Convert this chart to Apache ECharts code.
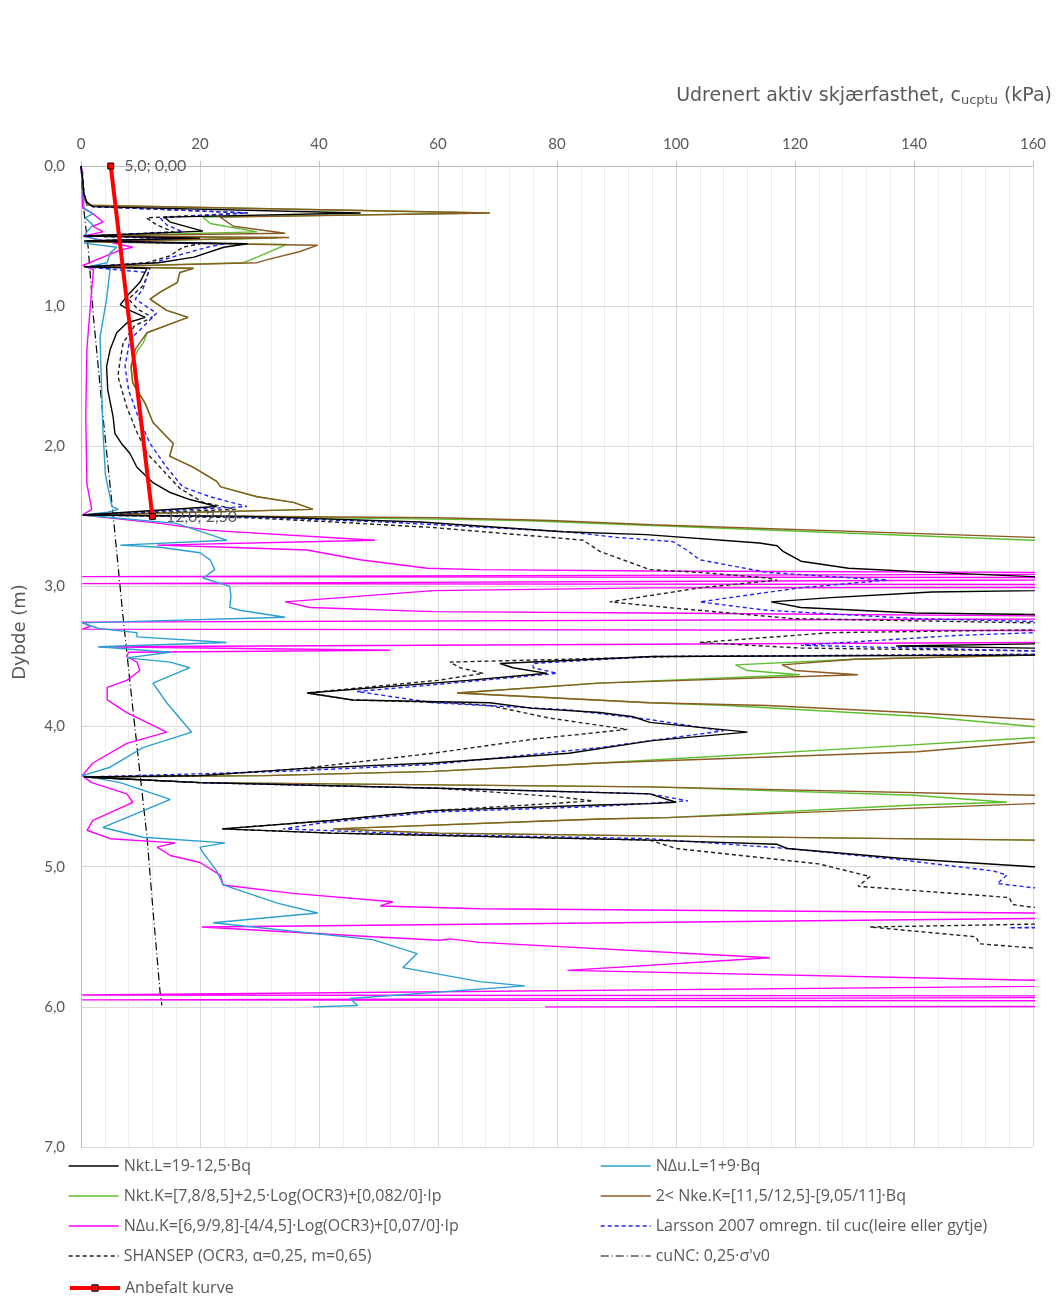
<!DOCTYPE html>
<html>
<head>
<meta charset="utf-8">
<script src="https://cdn.jsdelivr.net/npm/echarts@6/dist/echarts.min.js"></script>
<style>
  html, body { margin: 0; padding: 0; background: #fff; }
  #chart { width: 1061px; height: 1296px; }
</style>
</head>
<body>
<div id="chart"></div>
<script>
// [skjærfasthet kPa, dybde m]
var nktL = [
  [0,0],[0.3,0.1],[0.5,0.2],[1,0.26],[2,0.29],[47,0.335],[14,0.365],[15,0.4],[20.5,0.465],[0.5,0.5],[20,0.515],[0.5,0.535],[28,0.555],[24,0.58],[19,0.65],[13,0.69],[0.5,0.72],
  [11.1,0.73],[9.9,0.83],[7.7,0.93],[6.6,0.99],[8.2,1.03],[10.8,1.08],[7.7,1.12],[6,1.19],[4.9,1.31],[4.3,1.43],[4.5,1.6],[5.4,1.79],[5.7,1.91],[6.8,1.98],[8.2,2.05],[9.4,2.15],[12.1,2.26],[15,2.33],[18.3,2.38],[22.8,2.43],[0.3,2.49],
  [28,2.5],[57,2.54],[81,2.61],[95,2.63],[114,2.69],[117,2.71],[118,2.75],[121,2.82],[129,2.87],[143,2.9],[160,2.93],[250,2.96],[250,2.98],[143,3.04],[126,3.08],[116,3.11],[121,3.15],[140,3.19],[160,3.2],[250,3.22],
  [250,3.4],[160,3.41],[137,3.425],[160,3.44],[250,3.46],[250,3.485],[160,3.49],[96,3.5],[70.4,3.55],[72.6,3.58],[78.3,3.62],[65,3.67],[38,3.76],[45.7,3.81],[68.7,3.83],[76,3.87],[87.2,3.9],[92.8,3.93],[95.6,3.97],[112,4.04],
  [96,4.1],[82,4.19],[59,4.26],[37,4.3],[20,4.35],[0.5,4.36],[20,4.4],[60,4.44],[95.6,4.48],[100,4.54],[95.6,4.55],[87,4.56],[59,4.6],[42,4.67],[23.7,4.73],[42,4.76],[95.6,4.81],[117,4.84],[118.7,4.87],[137.6,4.94],[160,5.0],[250,5.05],[250,6.0]
];
var nduL = [
  [0,0],[0.3,0.15],[0.5,0.3],[2,0.34],[0.7,0.37],[2,0.42],[1,0.47],[0.5,0.5],[3,0.53],[0.5,0.55],[6,0.58],[4.9,0.62],[4.4,0.69],[1,0.72],[4.9,0.73],[4.3,0.95],[3.2,1.22],[3.4,1.5],[3.7,1.9],[4.1,2.2],[5.2,2.43],[6.3,2.45],[4.5,2.47],[0.2,2.49],
  [5.4,2.51],[16,2.55],[24.5,2.67],[6.6,2.705],[13.3,2.72],[20,2.76],[21.7,2.81],[22.5,2.88],[20.5,2.94],[25,3.0],[25.2,3.07],[25,3.15],[26.7,3.17],[34.3,3.22],[0.2,3.26],[3,3.3],[9.4,3.33],[9.4,3.36],[24.5,3.4],
  [2.9,3.43],[15,3.47],[7.7,3.51],[15,3.54],[18.3,3.58],[12.1,3.69],[14.4,3.83],[18.6,4.04],[10.4,4.15],[4.9,4.29],[0.2,4.35],[6.6,4.4],[15,4.52],[9.4,4.62],[3.7,4.72],[10.4,4.79],[24.2,4.83],[20,4.86],[20.5,4.9],
  [22.8,5.03],[23.9,5.13],[33,5.26],[39.8,5.33],[22.2,5.4],[49,5.52],[56.5,5.62],[54.1,5.72],[67,5.82],[74.6,5.85],[45.2,5.94],[46.5,5.99],[39,6.0]
];
var nktK = [
  [0,0],[0.3,0.15],[0.5,0.22],[1,0.28],[68.7,0.335],[20.5,0.365],[21.7,0.41],[29.6,0.47],[1,0.5],[33,0.515],[1,0.54],[34.6,0.56],[29.6,0.65],[27.3,0.69],[1,0.72],
  [18.9,0.73],[16.6,0.76],[16.2,0.83],[13.3,0.9],[11.6,0.95],[14.4,1.03],[18,1.08],[15.5,1.12],[11.1,1.19],[10.5,1.26],[9.6,1.31],[8.4,1.43],[8.7,1.55],[10.8,1.69],[12.1,1.83],[15.5,1.98],[14.9,2.07],[18.9,2.15],[22.8,2.25],[23.5,2.29],[29.6,2.36],[35.7,2.4],[39,2.45],[0.3,2.49],
  [60,2.52],[74,2.53],[96,2.565],[160,2.67],[250,2.72],[250,3.47],[160,3.49],[130,3.52],[110,3.56],[112,3.6],[120.8,3.63],[87,3.69],[63.2,3.76],[95.6,3.83],[108.6,3.85],[142,3.93],[160,4.0],[250,4.03],
  [250,4.06],[160,4.08],[132,4.15],[87.2,4.26],[59.2,4.32],[31,4.35],[0.5,4.36],[20,4.4],[95.6,4.43],[140,4.49],[155.6,4.54],[140,4.56],[98.5,4.65],[87.2,4.66],[42.4,4.73],[60,4.76],[95.6,4.78],[160,4.81],[250,4.83],[250,6.0]
];
var nkeK = [
  [0,0],[0.3,0.15],[0.5,0.22],[1,0.28],[68.7,0.335],[23.4,0.365],[25.6,0.43],[34.3,0.48],[1,0.5],[35,0.51],[1,0.54],[39.8,0.565],[36.8,0.61],[31.2,0.67],[29.6,0.69],[1,0.72],
  [18.9,0.73],[16.6,0.76],[16.2,0.83],[13.3,0.9],[11.6,0.95],[14.4,1.03],[18,1.08],[15.5,1.12],[11.1,1.19],[9.9,1.26],[9.1,1.31],[8.4,1.43],[8.7,1.55],[10.7,1.69],[12.1,1.83],[15.5,1.98],[14.9,2.07],[18.9,2.15],[22.8,2.25],[23.5,2.29],[29.6,2.36],[35.7,2.4],[39,2.45],[0.3,2.49],
  [60,2.51],[79,2.53],[96,2.56],[160,2.65],[250,2.7],[250,3.47],[160,3.49],[130,3.52],[117.8,3.56],[120,3.6],[130.6,3.63],[87,3.69],[63.2,3.76],[95.6,3.83],[115.3,3.85],[139.3,3.9],[160,3.95],[250,3.98],
  [250,4.05],[160,4.11],[140.5,4.18],[87.2,4.26],[59.2,4.32],[31,4.35],[0.5,4.36],[20,4.4],[95.6,4.43],[160,4.49],[250,4.52],[160,4.55],[98.5,4.65],[87.2,4.66],[42.4,4.73],[60,4.76],[95.6,4.78],[160,4.81],[250,4.83],[250,6.0]
];
var nduK = [
  [0,0],[0.3,0.05],[0.2,0.15],[0.3,0.3],[2,0.34],[3.7,0.4],[2,0.43],[3.7,0.47],[0.3,0.5],[8.7,0.58],[6.6,0.6],[3.7,0.65],[0.3,0.71],[2.1,0.74],[1.8,0.88],[1,1.3],[0.8,1.79],[1,2.27],[1.8,2.45],[0.3,2.49],
  [13.3,2.55],[21.7,2.6],[49.4,2.67],[12.8,2.705],[24.5,2.72],[38,2.74],[46.9,2.81],[58.2,2.87],[67,2.88],[95.6,2.89],[160,2.9],[250,2.905],[0.2,2.93],[250,2.94],[0.2,2.98],[250,2.99],
  [250,3.005],[95.6,3.01],[59.2,3.03],[34.3,3.11],[38.5,3.15],[59.2,3.18],[95.6,3.19],[160,3.21],[250,3.22],[0.2,3.255],[1.6,3.285],[0.2,3.305],[250,3.32],[250,3.39],[160,3.4],[3,3.43],[52,3.455],[8,3.47],
  [7.7,3.5],[9.4,3.54],[9.9,3.6],[7.7,3.67],[4.4,3.72],[4.4,3.81],[7.7,3.9],[14.4,4.04],[7.7,4.12],[2,4.26],[0.2,4.35],[1.8,4.4],[7.7,4.48],[8.7,4.54],[7.7,4.56],[2,4.67],[1,4.74],[4.9,4.8],[15.8,4.83],[12.8,4.86],[15,4.92],[20,4.97],
  [23.4,5.06],[23.9,5.13],[35.6,5.19],[52.4,5.25],[50.3,5.28],[67,5.3],[160,5.33],[250,5.335],[250,5.36],[160,5.37],[20.3,5.43],[49,5.5],[60.3,5.525],[62,5.515],[67,5.54],[115.8,5.65],[81.8,5.74],[160,5.81],[250,5.82],
  [0.2,5.915],[250,5.925],[0.2,5.95],[250,5.96],[250,5.995],[78,6.0]
];
var larsson = [
  [0,0],[0.3,0.1],[0.5,0.2],[1,0.26],[2,0.29],[28,0.335],[13.3,0.37],[14.4,0.42],[17.1,0.47],[1,0.5],[18,0.515],[1,0.535],[24,0.555],[21.2,0.58],[16.1,0.64],[12.2,0.69],[0.8,0.72],
  [11.3,0.76],[10.4,0.88],[9.1,0.95],[12.7,1.05],[10.4,1.15],[8.2,1.24],[7.4,1.43],[8,1.6],[9.6,1.79],[11.6,1.98],[14.4,2.15],[17.1,2.29],[21.7,2.36],[27.9,2.43],[0.3,2.49],
  [28,2.505],[50.8,2.54],[81.7,2.61],[90,2.65],[99.5,2.68],[101.8,2.74],[104,2.81],[115.3,2.9],[135.5,2.955],[120.8,3.01],[104,3.11],[115.3,3.17],[140.5,3.23],[160,3.25],[250,3.28],[250,3.3],[160,3.33],[147,3.35],[121,3.42],[140,3.44],[160,3.46],[250,3.47],
  [160,3.485],[96,3.5],[76,3.55],[76,3.58],[80,3.62],[70,3.66],[46.4,3.75],[59.2,3.83],[81.7,3.88],[95.6,3.95],[108,4.03],[87.2,4.15],[59.2,4.27],[34,4.32],[0.5,4.36],
  [20,4.4],[60,4.44],[95.6,4.48],[102,4.53],[87.2,4.57],[59.2,4.61],[40,4.69],[34,4.73],[59.2,4.77],[95.6,4.8],[118.7,4.87],[137.6,4.95],[153.3,5.03],[155.6,5.06],[154,5.12],[160,5.15],[250,5.18],[250,5.4],[156,5.435],[250,5.45]
];
var shansep = [
  [0,0],[0.3,0.1],[0.5,0.2],[1,0.26],[2,0.29],[28,0.335],[11,0.37],[12.7,0.42],[15.5,0.47],[1,0.5],[16,0.515],[1,0.535],[20,0.555],[17.1,0.58],[15,0.64],[11.1,0.69],[0.8,0.72],
  [11.6,0.73],[10.5,0.85],[8,0.95],[9.5,1.02],[12,1.08],[9,1.14],[7.1,1.26],[6.6,1.38],[6.2,1.5],[7.7,1.72],[9.4,1.9],[11.1,2.05],[13.3,2.15],[16.6,2.3],[20.5,2.4],[26,2.45],[0.3,2.49],
  [28,2.51],[42.4,2.54],[59.2,2.58],[81.7,2.66],[84.4,2.67],[87.2,2.75],[95.6,2.88],[104,2.9],[115.3,2.94],[117,2.955],[104,3.01],[88.9,3.11],[98.5,3.15],[119.7,3.23],[160,3.26],[250,3.28],[160,3.31],[126,3.33],[104,3.4],[121,3.44],[160,3.46],[250,3.47],
  [160,3.485],[100,3.5],[62,3.54],[63.7,3.58],[67.6,3.62],[60,3.67],[38,3.76],[45.7,3.81],[62,3.83],[68.7,3.85],[78.8,3.94],[91.8,4.02],[76,4.09],[59.2,4.19],[37,4.3],[20,4.35],[0.5,4.36],
  [20,4.4],[60,4.44],[80,4.5],[86,4.53],[75,4.56],[59,4.6],[42,4.67],[23.7,4.73],[42,4.76],[95.6,4.81],[100,4.87],[115.3,4.94],[124,4.98],[132.6,5.07],[130.6,5.14],[156,5.22],[156.6,5.27],[160,5.29],[250,5.32],
  [250,5.39],[160,5.41],[132.6,5.43],[150.4,5.5],[151,5.55],[160,5.58],[250,5.6],[250,6.0]
];
var cuNC = [
  [0,0],[0.3,0.25],[1.2,0.58],[2.1,1.08],[3.7,1.79],[5.4,2.49],[7,3.19],[8.5,3.79],[9.9,4.33],[11.1,4.79],[12.1,5.31],[13.3,5.9],[13.6,5.99]
];
var anbefalt = [[5.0,0.0],[12.0,2.5]];

var names = {
  nktL: 'Nkt.L=19-12,5·Bq',
  nduL: 'NΔu.L=1+9·Bq',
  nktK: 'Nkt.K=[7,8/8,5]+2,5·Log(OCR3)+[0,082/0]·Ip',
  nkeK: '2< Nke.K=[11,5/12,5]-[9,05/11]·Bq',
  nduK: 'NΔu.K=[6,9/9,8]-[4/4,5]·Log(OCR3)+[0,07/0]·Ip',
  larsson: 'Larsson 2007 omregn. til cuc(leire eller gytje)',
  shansep: 'SHANSEP (OCR3, α=0,25, m=0,65)',
  cuNC: 'cuNC: 0,25·σ\'v0',
  anbefalt: 'Anbefalt kurve'
};

var grey = '#595959';
var font = 'Lato, "Liberation Sans", sans-serif';
var legendFont = '"Open Sans", "Liberation Sans", sans-serif';

function lineSeries(name, data, color, width, type, z) {
  return {
    name: name, type: 'line', data: data, symbol: 'none', z: z,
    lineStyle: { color: color, width: width, type: type },
    itemStyle: { color: color }
  };
}

function legendBlock(left, top, items, itemHeight, hideSymbol) {
  return {
    left: left, top: top, orient: 'vertical', padding: 0,
    itemWidth: 50, itemHeight: itemHeight, itemGap: 30 - itemHeight,
    textStyle: { color: grey, fontSize: 16, lineHeight: itemHeight, fontFamily: legendFont },
    lineStyle: { width: 'inherit' },
    itemStyle: hideSymbol ? { opacity: 0 } : { borderColor: '#000', borderWidth: 1 },
    data: items
  };
}

var myChart = echarts.init(document.getElementById('chart'));
var option = {
  animation: false,
  textStyle: { fontFamily: font },
  title: {
    right: 4, top: 80,
    text: '{a|Udrenert aktiv skjærfasthet, c}{b|ucptu}{a| (kPa)}',
    textStyle: {
      fontWeight: 'normal',
      rich: {
        a: { fontFamily: '"DejaVu Sans", sans-serif', fontSize: 19, fontWeight: 'normal', color: grey },
        b: { fontFamily: '"DejaVu Sans", sans-serif', fontSize: 13, fontWeight: 'normal', color: grey, padding: [9, 0, 0, 0] }
      }
    }
  },
  graphic: [{
    type: 'text', x: 20, y: 632, rotation: Math.PI / 2,
    style: { text: 'Dybde (m)', fill: grey, font: '18px "DejaVu Sans", sans-serif', textAlign: 'center', textVerticalAlign: 'middle' }
  }],
  grid: { left: 81, right: 28, top: 166, bottom: 149 },
  legend: [
    legendBlock(68, 1158, [names.nktL, names.nktK, names.nduK, names.shansep], 16, true),
    legendBlock(600, 1158, [names.nduL, names.nkeK, names.larsson, names.cuNC], 16, true),
    legendBlock(68, 1280, [names.anbefalt], 8, false)
  ],
  xAxis: {
    type: 'value', position: 'top', min: 0, max: 160, interval: 20,
    axisLine: { show: true, lineStyle: { color: '#bfbfbf' } },
    axisTick: { show: true, length: 5, lineStyle: { color: '#bfbfbf' } },
    axisLabel: { color: grey, fontSize: 15, margin: 14 },
    splitLine: { show: true, lineStyle: { color: '#d9d9d9' } },
    minorTick: { show: false, splitNumber: 5 },
    minorSplitLine: { show: true, lineStyle: { color: '#ededed' } }
  },
  yAxis: {
    type: 'value', inverse: true, min: 0, max: 7, interval: 1,
    axisLine: { show: true, lineStyle: { color: '#bfbfbf' } },
    axisTick: { show: false },
    axisLabel: { color: grey, fontSize: 15, margin: 16, formatter: function (v) { return v.toFixed(1).replace('.', ','); } },
    splitLine: { show: true, lineStyle: { color: '#d9d9d9' } }
  },
  series: [
    lineSeries(names.cuNC, cuNC, '#000000', 1.2, [8, 3, 1, 3], 2),
    lineSeries(names.nduK, nduK, '#ff00ff', 1.4, 'solid', 3),
    lineSeries(names.nduL, nduL, '#2b9fd0', 1.4, 'solid', 4),
    lineSeries(names.nktK, nktK, '#5cc02e', 1.4, 'solid', 5),
    lineSeries(names.nkeK, nkeK, '#8b5a25', 1.4, 'solid', 6),
    lineSeries(names.shansep, shansep, '#222222', 1.4, [4, 3], 7),
    lineSeries(names.larsson, larsson, '#2222ff', 1.4, [4, 3], 8),
    lineSeries(names.nktL, nktL, '#000000', 1.4, 'solid', 9),
    {
      name: names.anbefalt, type: 'line', data: anbefalt, z: 10,
      symbol: 'rect', symbolSize: 6,
      lineStyle: { color: '#ff0000', width: 4 },
      itemStyle: { color: '#ff0000', borderColor: '#000000', borderWidth: 1 },
      label: {
        show: true, position: 'right', distance: 10, color: grey, fontSize: 16,
        formatter: function (p) {
          return p.value[0].toFixed(1).replace('.', ',') + '; ' + p.value[1].toFixed(2).replace('.', ',');
        }
      }
    }
  ]
};
myChart.setOption(option);
window.addEventListener('resize', function () { myChart.resize(); });
</script>
</body>
</html>
